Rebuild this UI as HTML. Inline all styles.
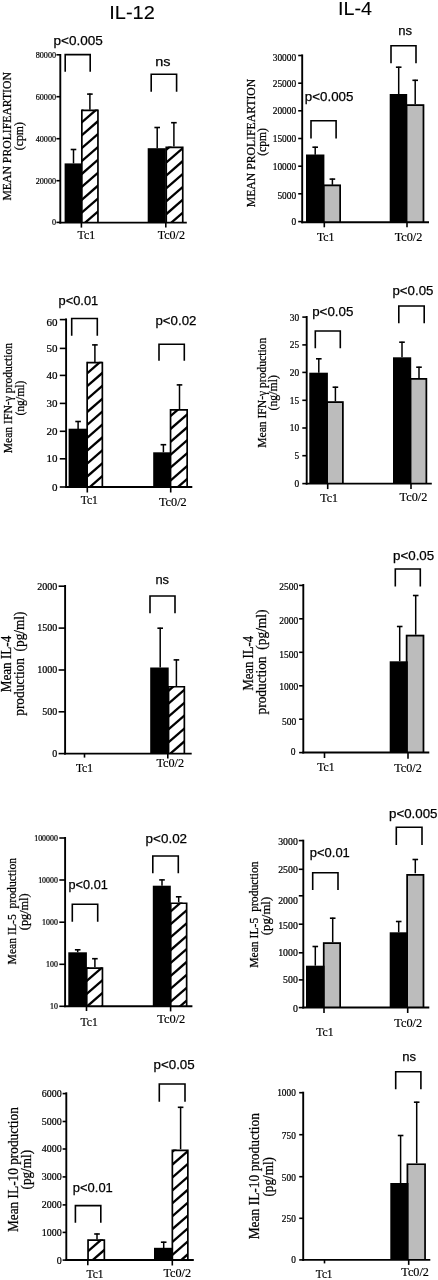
<!DOCTYPE html>
<html><head><meta charset="utf-8"><title>Figure</title>
<style>
html,body{margin:0;padding:0;background:#fff;}
body{width:438px;height:1280px;overflow:hidden;font-family:"Liberation Sans",sans-serif;}
svg{display:block;filter:blur(0.4px);}
</style></head><body>
<svg width="438" height="1280" viewBox="0 0 438 1280">
<defs>
<clipPath id="c1"><rect x="81.85" y="109.60" width="16.10" height="113.00"/></clipPath>
<clipPath id="c2"><rect x="166.25" y="146.50" width="16.50" height="76.10"/></clipPath>
<clipPath id="c3"><rect x="87.15" y="361.80" width="15.20" height="125.20"/></clipPath>
<clipPath id="c4"><rect x="170.55" y="409.00" width="16.60" height="78.00"/></clipPath>
<clipPath id="c5"><rect x="168.55" y="685.90" width="15.80" height="67.70"/></clipPath>
<clipPath id="c6"><rect x="86.75" y="967.20" width="15.70" height="39.00"/></clipPath>
<clipPath id="c7"><rect x="170.75" y="902.40" width="15.90" height="103.80"/></clipPath>
<clipPath id="c8"><rect x="88.05" y="1239.30" width="16.30" height="20.70"/></clipPath>
<clipPath id="c9"><rect x="172.35" y="1149.50" width="15.50" height="110.50"/></clipPath>
</defs>
<rect width="438" height="1280" fill="#fff"/>
<rect x="81.00" y="109.60" width="17.80" height="113.00" fill="#fff"/>
<g clip-path="url(#c1)">
<line x1="78.85" y1="99.11" x2="100.95" y2="79.88" stroke="#000" stroke-width="2.3"/>
<line x1="78.85" y1="112.01" x2="100.95" y2="92.78" stroke="#000" stroke-width="2.3"/>
<line x1="78.85" y1="124.91" x2="100.95" y2="105.68" stroke="#000" stroke-width="2.3"/>
<line x1="78.85" y1="137.81" x2="100.95" y2="118.58" stroke="#000" stroke-width="2.3"/>
<line x1="78.85" y1="150.71" x2="100.95" y2="131.48" stroke="#000" stroke-width="2.3"/>
<line x1="78.85" y1="163.61" x2="100.95" y2="144.38" stroke="#000" stroke-width="2.3"/>
<line x1="78.85" y1="176.51" x2="100.95" y2="157.28" stroke="#000" stroke-width="2.3"/>
<line x1="78.85" y1="189.41" x2="100.95" y2="170.18" stroke="#000" stroke-width="2.3"/>
<line x1="78.85" y1="202.31" x2="100.95" y2="183.08" stroke="#000" stroke-width="2.3"/>
<line x1="78.85" y1="215.21" x2="100.95" y2="195.98" stroke="#000" stroke-width="2.3"/>
<line x1="78.85" y1="228.11" x2="100.95" y2="208.88" stroke="#000" stroke-width="2.3"/>
<line x1="78.85" y1="241.01" x2="100.95" y2="221.78" stroke="#000" stroke-width="2.3"/>
<line x1="78.85" y1="253.91" x2="100.95" y2="234.68" stroke="#000" stroke-width="2.3"/>
<line x1="78.85" y1="266.81" x2="100.95" y2="247.58" stroke="#000" stroke-width="2.3"/>
</g>
<path d="M81.85 222.60V110.45H97.95V222.60" fill="none" stroke="#000" stroke-width="1.7"/>
<rect x="165.40" y="146.50" width="18.20" height="76.10" fill="#fff"/>
<g clip-path="url(#c2)">
<line x1="163.25" y1="126.47" x2="185.75" y2="106.90" stroke="#000" stroke-width="2.3"/>
<line x1="163.25" y1="139.37" x2="185.75" y2="119.80" stroke="#000" stroke-width="2.3"/>
<line x1="163.25" y1="152.27" x2="185.75" y2="132.70" stroke="#000" stroke-width="2.3"/>
<line x1="163.25" y1="165.17" x2="185.75" y2="145.60" stroke="#000" stroke-width="2.3"/>
<line x1="163.25" y1="178.07" x2="185.75" y2="158.50" stroke="#000" stroke-width="2.3"/>
<line x1="163.25" y1="190.97" x2="185.75" y2="171.40" stroke="#000" stroke-width="2.3"/>
<line x1="163.25" y1="203.87" x2="185.75" y2="184.30" stroke="#000" stroke-width="2.3"/>
<line x1="163.25" y1="216.77" x2="185.75" y2="197.20" stroke="#000" stroke-width="2.3"/>
<line x1="163.25" y1="229.67" x2="185.75" y2="210.10" stroke="#000" stroke-width="2.3"/>
<line x1="163.25" y1="242.57" x2="185.75" y2="223.00" stroke="#000" stroke-width="2.3"/>
<line x1="163.25" y1="255.47" x2="185.75" y2="235.90" stroke="#000" stroke-width="2.3"/>
<line x1="163.25" y1="268.37" x2="185.75" y2="248.80" stroke="#000" stroke-width="2.3"/>
</g>
<path d="M166.25 222.60V147.35H182.75V222.60" fill="none" stroke="#000" stroke-width="1.7"/>
<rect x="64.60" y="163.40" width="17.00" height="59.20" fill="#000"/>
<rect x="147.70" y="148.20" width="18.10" height="74.40" fill="#000"/>
<line x1="73.50" y1="149.00" x2="73.50" y2="163.40" stroke="#000" stroke-width="1.5"/>
<line x1="70.70" y1="149.50" x2="76.30" y2="149.50" stroke="#000" stroke-width="1.6"/>
<line x1="89.90" y1="93.60" x2="89.90" y2="109.70" stroke="#000" stroke-width="1.5"/>
<line x1="87.10" y1="94.10" x2="92.70" y2="94.10" stroke="#000" stroke-width="1.6"/>
<line x1="157.20" y1="127.00" x2="157.20" y2="148.20" stroke="#000" stroke-width="1.5"/>
<line x1="154.40" y1="127.50" x2="160.00" y2="127.50" stroke="#000" stroke-width="1.6"/>
<line x1="173.90" y1="122.20" x2="173.90" y2="146.50" stroke="#000" stroke-width="1.5"/>
<line x1="171.10" y1="122.70" x2="176.70" y2="122.70" stroke="#000" stroke-width="1.6"/>
<line x1="60.30" y1="54.00" x2="60.30" y2="223.55" stroke="#000" stroke-width="1.9"/>
<line x1="59.35" y1="222.60" x2="186.80" y2="222.60" stroke="#000" stroke-width="1.9"/>
<line x1="56.40" y1="54.80" x2="60.30" y2="54.80" stroke="#000" stroke-width="1.6"/>
<text x="56.10" y="57.67" font-family="Liberation Serif" font-size="8.7" text-anchor="end" stroke="#000" stroke-width="0.22" textLength="20.40" lengthAdjust="spacingAndGlyphs">80000</text>
<line x1="56.40" y1="96.70" x2="60.30" y2="96.70" stroke="#000" stroke-width="1.6"/>
<text x="56.10" y="99.57" font-family="Liberation Serif" font-size="8.7" text-anchor="end" stroke="#000" stroke-width="0.22" textLength="20.40" lengthAdjust="spacingAndGlyphs">60000</text>
<line x1="56.40" y1="138.70" x2="60.30" y2="138.70" stroke="#000" stroke-width="1.6"/>
<text x="56.10" y="141.57" font-family="Liberation Serif" font-size="8.7" text-anchor="end" stroke="#000" stroke-width="0.22" textLength="20.40" lengthAdjust="spacingAndGlyphs">40000</text>
<line x1="56.40" y1="180.70" x2="60.30" y2="180.70" stroke="#000" stroke-width="1.6"/>
<text x="56.10" y="183.57" font-family="Liberation Serif" font-size="8.7" text-anchor="end" stroke="#000" stroke-width="0.22" textLength="20.40" lengthAdjust="spacingAndGlyphs">20000</text>
<line x1="56.40" y1="222.40" x2="60.30" y2="222.40" stroke="#000" stroke-width="1.6"/>
<text x="56.10" y="225.27" font-family="Liberation Serif" font-size="8.7" text-anchor="end" stroke="#000" stroke-width="0.22" textLength="4.08" lengthAdjust="spacingAndGlyphs">0</text>
<line x1="81.40" y1="222.60" x2="81.40" y2="227.60" stroke="#000" stroke-width="1.6"/>
<line x1="165.80" y1="222.60" x2="165.80" y2="227.60" stroke="#000" stroke-width="1.6"/>
<path d="M65.20 71.80V54.60H90.20V71.80" fill="none" stroke="#000" stroke-width="1.6"/>
<path d="M151.20 91.80V74.20H176.60V91.80" fill="none" stroke="#000" stroke-width="1.6"/>
<text x="53.50" y="44.60" font-family="Liberation Sans" font-size="13.3" text-anchor="start" stroke="#000" stroke-width="0.25" textLength="49.30" lengthAdjust="spacingAndGlyphs">p&lt;0.005</text>
<text x="155.30" y="65.80" font-family="Liberation Sans" font-size="13.3" text-anchor="start" stroke="#000" stroke-width="0.25" textLength="15.30" lengthAdjust="spacingAndGlyphs">ns</text>
<text x="77.60" y="238.80" font-family="Liberation Serif" font-size="11.6" text-anchor="start" stroke="#000" stroke-width="0.18" textLength="17.60" lengthAdjust="spacingAndGlyphs">Tc1</text>
<text x="157.70" y="239.00" font-family="Liberation Serif" font-size="12.2" text-anchor="start" stroke="#000" stroke-width="0.18" textLength="27.30" lengthAdjust="spacingAndGlyphs">Tc0/2</text>
<text x="11.30" y="200.55" font-family="Liberation Serif" font-size="12.5" text-anchor="start" stroke="#000" stroke-width="0.25" textLength="128.50" lengthAdjust="spacingAndGlyphs" transform="rotate(-90 11.30 200.55)">MEAN PROLIFEARTION</text>
<text x="23.40" y="150.20" font-family="Liberation Serif" font-size="12" text-anchor="start" stroke="#000" stroke-width="0.25" textLength="28.00" lengthAdjust="spacingAndGlyphs" transform="rotate(-90 23.40 150.20)">(cpm)</text>
<rect x="322.80" y="184.50" width="18.20" height="37.80" fill="#bcbcbc"/>
<path d="M323.65 222.30V185.35H340.15V222.30" fill="none" stroke="#000" stroke-width="1.7"/>
<rect x="405.60" y="104.30" width="18.70" height="118.00" fill="#bcbcbc"/>
<path d="M406.45 222.30V105.15H423.45V222.30" fill="none" stroke="#000" stroke-width="1.7"/>
<rect x="306.00" y="154.50" width="18.40" height="67.80" fill="#000"/>
<rect x="389.70" y="94.00" width="17.50" height="128.30" fill="#000"/>
<line x1="315.20" y1="146.70" x2="315.20" y2="154.70" stroke="#000" stroke-width="1.5"/>
<line x1="312.40" y1="147.20" x2="318.00" y2="147.20" stroke="#000" stroke-width="1.6"/>
<line x1="332.40" y1="178.60" x2="332.40" y2="184.80" stroke="#000" stroke-width="1.5"/>
<line x1="329.60" y1="179.10" x2="335.20" y2="179.10" stroke="#000" stroke-width="1.6"/>
<line x1="398.70" y1="66.70" x2="398.70" y2="94.00" stroke="#000" stroke-width="1.5"/>
<line x1="395.90" y1="67.20" x2="401.50" y2="67.20" stroke="#000" stroke-width="1.6"/>
<line x1="415.20" y1="79.80" x2="415.20" y2="104.30" stroke="#000" stroke-width="1.5"/>
<line x1="412.40" y1="80.30" x2="418.00" y2="80.30" stroke="#000" stroke-width="1.6"/>
<line x1="302.20" y1="54.40" x2="302.20" y2="223.25" stroke="#000" stroke-width="1.9"/>
<line x1="301.25" y1="222.30" x2="429.00" y2="222.30" stroke="#000" stroke-width="1.9"/>
<line x1="298.20" y1="55.50" x2="302.20" y2="55.50" stroke="#000" stroke-width="1.6"/>
<text x="296.20" y="61.30" font-family="Liberation Serif" font-size="10.6" text-anchor="end" stroke="#000" stroke-width="0.22" textLength="23.50" lengthAdjust="spacingAndGlyphs">30000</text>
<line x1="298.20" y1="83.20" x2="302.20" y2="83.20" stroke="#000" stroke-width="1.6"/>
<text x="296.20" y="86.70" font-family="Liberation Serif" font-size="10.6" text-anchor="end" stroke="#000" stroke-width="0.22" textLength="23.50" lengthAdjust="spacingAndGlyphs">25000</text>
<line x1="298.20" y1="110.80" x2="302.20" y2="110.80" stroke="#000" stroke-width="1.6"/>
<text x="296.20" y="114.30" font-family="Liberation Serif" font-size="10.6" text-anchor="end" stroke="#000" stroke-width="0.22" textLength="23.50" lengthAdjust="spacingAndGlyphs">20000</text>
<line x1="298.20" y1="138.50" x2="302.20" y2="138.50" stroke="#000" stroke-width="1.6"/>
<text x="296.20" y="142.00" font-family="Liberation Serif" font-size="10.6" text-anchor="end" stroke="#000" stroke-width="0.22" textLength="23.50" lengthAdjust="spacingAndGlyphs">15000</text>
<line x1="298.20" y1="166.20" x2="302.20" y2="166.20" stroke="#000" stroke-width="1.6"/>
<text x="296.20" y="169.70" font-family="Liberation Serif" font-size="10.6" text-anchor="end" stroke="#000" stroke-width="0.22" textLength="23.50" lengthAdjust="spacingAndGlyphs">10000</text>
<line x1="298.20" y1="193.80" x2="302.20" y2="193.80" stroke="#000" stroke-width="1.6"/>
<text x="296.20" y="198.70" font-family="Liberation Serif" font-size="10.6" text-anchor="end" stroke="#000" stroke-width="0.22" textLength="18.80" lengthAdjust="spacingAndGlyphs">5000</text>
<line x1="298.20" y1="221.60" x2="302.20" y2="221.60" stroke="#000" stroke-width="1.6"/>
<text x="296.20" y="225.10" font-family="Liberation Serif" font-size="10.6" text-anchor="end" stroke="#000" stroke-width="0.22" textLength="4.70" lengthAdjust="spacingAndGlyphs">0</text>
<line x1="324.30" y1="222.30" x2="324.30" y2="227.30" stroke="#000" stroke-width="1.6"/>
<line x1="407.00" y1="222.30" x2="407.00" y2="227.30" stroke="#000" stroke-width="1.6"/>
<path d="M311.00 138.40V120.70H336.10V138.40" fill="none" stroke="#000" stroke-width="1.6"/>
<path d="M391.00 63.30V45.70H416.00V63.30" fill="none" stroke="#000" stroke-width="1.6"/>
<text x="304.80" y="101.00" font-family="Liberation Sans" font-size="13.3" text-anchor="start" stroke="#000" stroke-width="0.25" textLength="48.60" lengthAdjust="spacingAndGlyphs">p&lt;0.005</text>
<text x="398.20" y="34.70" font-family="Liberation Sans" font-size="13.3" text-anchor="start" stroke="#000" stroke-width="0.25" textLength="13.80" lengthAdjust="spacingAndGlyphs">ns</text>
<text x="317.00" y="240.60" font-family="Liberation Serif" font-size="11.6" text-anchor="start" stroke="#000" stroke-width="0.18" textLength="17.50" lengthAdjust="spacingAndGlyphs">Tc1</text>
<text x="394.70" y="240.50" font-family="Liberation Serif" font-size="12.2" text-anchor="start" stroke="#000" stroke-width="0.18" textLength="27.70" lengthAdjust="spacingAndGlyphs">Tc0/2</text>
<text x="254.90" y="207.25" font-family="Liberation Serif" font-size="12.5" text-anchor="start" stroke="#000" stroke-width="0.25" textLength="128.50" lengthAdjust="spacingAndGlyphs" transform="rotate(-90 254.90 207.25)">MEAN PROLIFEARTION</text>
<text x="266.50" y="155.80" font-family="Liberation Serif" font-size="12" text-anchor="start" stroke="#000" stroke-width="0.25" textLength="27.60" lengthAdjust="spacingAndGlyphs" transform="rotate(-90 266.50 155.80)">(cpm)</text>
<rect x="86.30" y="361.80" width="16.90" height="125.20" fill="#fff"/>
<g clip-path="url(#c3)">
<line x1="84.15" y1="350.09" x2="105.35" y2="331.65" stroke="#000" stroke-width="2.3"/>
<line x1="84.15" y1="362.99" x2="105.35" y2="344.55" stroke="#000" stroke-width="2.3"/>
<line x1="84.15" y1="375.89" x2="105.35" y2="357.45" stroke="#000" stroke-width="2.3"/>
<line x1="84.15" y1="388.79" x2="105.35" y2="370.35" stroke="#000" stroke-width="2.3"/>
<line x1="84.15" y1="401.69" x2="105.35" y2="383.25" stroke="#000" stroke-width="2.3"/>
<line x1="84.15" y1="414.59" x2="105.35" y2="396.15" stroke="#000" stroke-width="2.3"/>
<line x1="84.15" y1="427.49" x2="105.35" y2="409.05" stroke="#000" stroke-width="2.3"/>
<line x1="84.15" y1="440.39" x2="105.35" y2="421.95" stroke="#000" stroke-width="2.3"/>
<line x1="84.15" y1="453.29" x2="105.35" y2="434.85" stroke="#000" stroke-width="2.3"/>
<line x1="84.15" y1="466.19" x2="105.35" y2="447.75" stroke="#000" stroke-width="2.3"/>
<line x1="84.15" y1="479.09" x2="105.35" y2="460.65" stroke="#000" stroke-width="2.3"/>
<line x1="84.15" y1="491.99" x2="105.35" y2="473.55" stroke="#000" stroke-width="2.3"/>
<line x1="84.15" y1="504.89" x2="105.35" y2="486.45" stroke="#000" stroke-width="2.3"/>
<line x1="84.15" y1="517.79" x2="105.35" y2="499.35" stroke="#000" stroke-width="2.3"/>
<line x1="84.15" y1="530.69" x2="105.35" y2="512.25" stroke="#000" stroke-width="2.3"/>
</g>
<path d="M87.15 487.00V362.65H102.35V487.00" fill="none" stroke="#000" stroke-width="1.7"/>
<rect x="169.70" y="409.00" width="18.30" height="78.00" fill="#fff"/>
<g clip-path="url(#c4)">
<line x1="167.55" y1="392.83" x2="190.15" y2="373.17" stroke="#000" stroke-width="2.3"/>
<line x1="167.55" y1="405.73" x2="190.15" y2="386.07" stroke="#000" stroke-width="2.3"/>
<line x1="167.55" y1="418.63" x2="190.15" y2="398.97" stroke="#000" stroke-width="2.3"/>
<line x1="167.55" y1="431.53" x2="190.15" y2="411.87" stroke="#000" stroke-width="2.3"/>
<line x1="167.55" y1="444.43" x2="190.15" y2="424.77" stroke="#000" stroke-width="2.3"/>
<line x1="167.55" y1="457.33" x2="190.15" y2="437.67" stroke="#000" stroke-width="2.3"/>
<line x1="167.55" y1="470.23" x2="190.15" y2="450.57" stroke="#000" stroke-width="2.3"/>
<line x1="167.55" y1="483.13" x2="190.15" y2="463.47" stroke="#000" stroke-width="2.3"/>
<line x1="167.55" y1="496.03" x2="190.15" y2="476.37" stroke="#000" stroke-width="2.3"/>
<line x1="167.55" y1="508.93" x2="190.15" y2="489.27" stroke="#000" stroke-width="2.3"/>
<line x1="167.55" y1="521.83" x2="190.15" y2="502.17" stroke="#000" stroke-width="2.3"/>
<line x1="167.55" y1="534.73" x2="190.15" y2="515.07" stroke="#000" stroke-width="2.3"/>
</g>
<path d="M170.55 487.00V409.85H187.15V487.00" fill="none" stroke="#000" stroke-width="1.7"/>
<rect x="68.60" y="428.70" width="18.60" height="58.30" fill="#000"/>
<rect x="153.20" y="452.30" width="17.60" height="34.70" fill="#000"/>
<line x1="78.10" y1="421.00" x2="78.10" y2="429.00" stroke="#000" stroke-width="1.5"/>
<line x1="75.30" y1="421.50" x2="80.90" y2="421.50" stroke="#000" stroke-width="1.6"/>
<line x1="94.90" y1="344.40" x2="94.90" y2="362.00" stroke="#000" stroke-width="1.5"/>
<line x1="92.10" y1="344.90" x2="97.70" y2="344.90" stroke="#000" stroke-width="1.6"/>
<line x1="163.40" y1="444.20" x2="163.40" y2="452.30" stroke="#000" stroke-width="1.5"/>
<line x1="160.60" y1="444.70" x2="166.20" y2="444.70" stroke="#000" stroke-width="1.6"/>
<line x1="179.50" y1="384.40" x2="179.50" y2="409.00" stroke="#000" stroke-width="1.5"/>
<line x1="176.70" y1="384.90" x2="182.30" y2="384.90" stroke="#000" stroke-width="1.6"/>
<line x1="66.10" y1="318.40" x2="66.10" y2="487.95" stroke="#000" stroke-width="1.9"/>
<line x1="65.15" y1="487.00" x2="192.30" y2="487.00" stroke="#000" stroke-width="1.9"/>
<line x1="59.80" y1="319.60" x2="66.10" y2="319.60" stroke="#000" stroke-width="1.6"/>
<text x="57.60" y="325.83" font-family="Liberation Serif" font-size="10.7" text-anchor="end" stroke="#000" stroke-width="0.22" textLength="11.00" lengthAdjust="spacingAndGlyphs">60</text>
<line x1="59.80" y1="348.40" x2="66.10" y2="348.40" stroke="#000" stroke-width="1.6"/>
<text x="57.60" y="351.93" font-family="Liberation Serif" font-size="10.7" text-anchor="end" stroke="#000" stroke-width="0.22" textLength="11.00" lengthAdjust="spacingAndGlyphs">50</text>
<line x1="59.80" y1="375.40" x2="66.10" y2="375.40" stroke="#000" stroke-width="1.6"/>
<text x="57.60" y="378.93" font-family="Liberation Serif" font-size="10.7" text-anchor="end" stroke="#000" stroke-width="0.22" textLength="11.00" lengthAdjust="spacingAndGlyphs">40</text>
<line x1="59.80" y1="403.40" x2="66.10" y2="403.40" stroke="#000" stroke-width="1.6"/>
<text x="57.60" y="406.93" font-family="Liberation Serif" font-size="10.7" text-anchor="end" stroke="#000" stroke-width="0.22" textLength="11.00" lengthAdjust="spacingAndGlyphs">30</text>
<line x1="59.80" y1="431.30" x2="66.10" y2="431.30" stroke="#000" stroke-width="1.6"/>
<text x="57.60" y="434.83" font-family="Liberation Serif" font-size="10.7" text-anchor="end" stroke="#000" stroke-width="0.22" textLength="11.00" lengthAdjust="spacingAndGlyphs">20</text>
<line x1="59.80" y1="458.80" x2="66.10" y2="458.80" stroke="#000" stroke-width="1.6"/>
<text x="57.60" y="462.33" font-family="Liberation Serif" font-size="10.7" text-anchor="end" stroke="#000" stroke-width="0.22" textLength="11.00" lengthAdjust="spacingAndGlyphs">10</text>
<line x1="59.80" y1="487.00" x2="66.10" y2="487.00" stroke="#000" stroke-width="1.6"/>
<text x="57.60" y="490.53" font-family="Liberation Serif" font-size="10.7" text-anchor="end" stroke="#000" stroke-width="0.22" textLength="5.50" lengthAdjust="spacingAndGlyphs">0</text>
<line x1="87.30" y1="487.00" x2="87.30" y2="492.50" stroke="#000" stroke-width="1.6"/>
<line x1="170.70" y1="487.00" x2="170.70" y2="492.50" stroke="#000" stroke-width="1.6"/>
<path d="M71.70 335.80V318.50H97.30V335.80" fill="none" stroke="#000" stroke-width="1.6"/>
<path d="M159.00 360.80V344.20H184.30V360.80" fill="none" stroke="#000" stroke-width="1.6"/>
<text x="58.50" y="304.50" font-family="Liberation Sans" font-size="13.3" text-anchor="start" stroke="#000" stroke-width="0.25" textLength="39.70" lengthAdjust="spacingAndGlyphs">p&lt;0.01</text>
<text x="155.50" y="324.50" font-family="Liberation Sans" font-size="13.3" text-anchor="start" stroke="#000" stroke-width="0.25" textLength="40.90" lengthAdjust="spacingAndGlyphs">p&lt;0.02</text>
<text x="80.70" y="504.00" font-family="Liberation Serif" font-size="11.6" text-anchor="start" stroke="#000" stroke-width="0.18" textLength="17.20" lengthAdjust="spacingAndGlyphs">Tc1</text>
<text x="158.90" y="506.00" font-family="Liberation Serif" font-size="12.2" text-anchor="start" stroke="#000" stroke-width="0.18" textLength="27.80" lengthAdjust="spacingAndGlyphs">Tc0/2</text>
<text x="12.50" y="453.30" font-family="Liberation Serif" font-size="13" text-anchor="start" stroke="#000" stroke-width="0.25" textLength="110.40" lengthAdjust="spacingAndGlyphs" transform="rotate(-90 12.50 453.30)">Mean IFN-γ production</text>
<text x="24.00" y="415.60" font-family="Liberation Serif" font-size="12.6" text-anchor="start" stroke="#000" stroke-width="0.25" textLength="35.00" lengthAdjust="spacingAndGlyphs" transform="rotate(-90 24.00 415.60)">(ng/ml)</text>
<rect x="326.20" y="401.30" width="17.50" height="82.30" fill="#bcbcbc"/>
<path d="M327.05 483.60V402.15H342.85V483.60" fill="none" stroke="#000" stroke-width="1.7"/>
<rect x="409.60" y="378.00" width="17.60" height="105.60" fill="#bcbcbc"/>
<path d="M410.45 483.60V378.85H426.35V483.60" fill="none" stroke="#000" stroke-width="1.7"/>
<rect x="309.30" y="372.70" width="18.60" height="110.90" fill="#000"/>
<rect x="393.00" y="357.30" width="18.20" height="126.30" fill="#000"/>
<line x1="318.80" y1="358.30" x2="318.80" y2="372.70" stroke="#000" stroke-width="1.5"/>
<line x1="316.00" y1="358.80" x2="321.60" y2="358.80" stroke="#000" stroke-width="1.6"/>
<line x1="335.40" y1="386.70" x2="335.40" y2="401.30" stroke="#000" stroke-width="1.5"/>
<line x1="332.60" y1="387.20" x2="338.20" y2="387.20" stroke="#000" stroke-width="1.6"/>
<line x1="402.00" y1="341.70" x2="402.00" y2="357.30" stroke="#000" stroke-width="1.5"/>
<line x1="399.20" y1="342.20" x2="404.80" y2="342.20" stroke="#000" stroke-width="1.6"/>
<line x1="419.00" y1="366.70" x2="419.00" y2="378.00" stroke="#000" stroke-width="1.5"/>
<line x1="416.20" y1="367.20" x2="421.80" y2="367.20" stroke="#000" stroke-width="1.6"/>
<line x1="306.70" y1="316.00" x2="306.70" y2="484.55" stroke="#000" stroke-width="1.9"/>
<line x1="305.75" y1="483.60" x2="431.80" y2="483.60" stroke="#000" stroke-width="1.9"/>
<line x1="302.30" y1="317.10" x2="306.70" y2="317.10" stroke="#000" stroke-width="1.6"/>
<text x="299.20" y="320.87" font-family="Liberation Serif" font-size="10.5" text-anchor="end" stroke="#000" stroke-width="0.22" textLength="9.40" lengthAdjust="spacingAndGlyphs">30</text>
<line x1="302.30" y1="344.90" x2="306.70" y2="344.90" stroke="#000" stroke-width="1.6"/>
<text x="299.20" y="348.36" font-family="Liberation Serif" font-size="10.5" text-anchor="end" stroke="#000" stroke-width="0.22" textLength="9.40" lengthAdjust="spacingAndGlyphs">25</text>
<line x1="302.30" y1="372.40" x2="306.70" y2="372.40" stroke="#000" stroke-width="1.6"/>
<text x="299.20" y="375.86" font-family="Liberation Serif" font-size="10.5" text-anchor="end" stroke="#000" stroke-width="0.22" textLength="9.40" lengthAdjust="spacingAndGlyphs">20</text>
<line x1="302.30" y1="400.30" x2="306.70" y2="400.30" stroke="#000" stroke-width="1.6"/>
<text x="299.20" y="403.76" font-family="Liberation Serif" font-size="10.5" text-anchor="end" stroke="#000" stroke-width="0.22" textLength="9.40" lengthAdjust="spacingAndGlyphs">15</text>
<line x1="302.30" y1="428.00" x2="306.70" y2="428.00" stroke="#000" stroke-width="1.6"/>
<text x="299.20" y="431.46" font-family="Liberation Serif" font-size="10.5" text-anchor="end" stroke="#000" stroke-width="0.22" textLength="9.40" lengthAdjust="spacingAndGlyphs">10</text>
<line x1="302.30" y1="455.70" x2="306.70" y2="455.70" stroke="#000" stroke-width="1.6"/>
<text x="299.20" y="459.16" font-family="Liberation Serif" font-size="10.5" text-anchor="end" stroke="#000" stroke-width="0.22" textLength="4.70" lengthAdjust="spacingAndGlyphs">5</text>
<line x1="302.30" y1="483.60" x2="306.70" y2="483.60" stroke="#000" stroke-width="1.6"/>
<text x="299.20" y="487.06" font-family="Liberation Serif" font-size="10.5" text-anchor="end" stroke="#000" stroke-width="0.22" textLength="4.70" lengthAdjust="spacingAndGlyphs">0</text>
<line x1="327.70" y1="483.60" x2="327.70" y2="489.10" stroke="#000" stroke-width="1.6"/>
<line x1="411.00" y1="483.60" x2="411.00" y2="489.10" stroke="#000" stroke-width="1.6"/>
<path d="M315.30 348.30V331.00H340.30V348.30" fill="none" stroke="#000" stroke-width="1.6"/>
<path d="M398.80 323.30V306.00H424.20V323.30" fill="none" stroke="#000" stroke-width="1.6"/>
<text x="312.20" y="315.70" font-family="Liberation Sans" font-size="13.3" text-anchor="start" stroke="#000" stroke-width="0.25" textLength="41.20" lengthAdjust="spacingAndGlyphs">p&lt;0.05</text>
<text x="392.50" y="295.00" font-family="Liberation Sans" font-size="13.3" text-anchor="start" stroke="#000" stroke-width="0.25" textLength="40.90" lengthAdjust="spacingAndGlyphs">p&lt;0.05</text>
<text x="320.30" y="501.80" font-family="Liberation Serif" font-size="11.6" text-anchor="start" stroke="#000" stroke-width="0.18" textLength="17.50" lengthAdjust="spacingAndGlyphs">Tc1</text>
<text x="399.60" y="501.20" font-family="Liberation Serif" font-size="12.2" text-anchor="start" stroke="#000" stroke-width="0.18" textLength="27.70" lengthAdjust="spacingAndGlyphs">Tc0/2</text>
<text x="266.00" y="447.80" font-family="Liberation Serif" font-size="13" text-anchor="start" stroke="#000" stroke-width="0.25" textLength="110.00" lengthAdjust="spacingAndGlyphs" transform="rotate(-90 266.00 447.80)">Mean IFN-γ production</text>
<text x="277.40" y="410.50" font-family="Liberation Serif" font-size="12.6" text-anchor="start" stroke="#000" stroke-width="0.25" textLength="35.40" lengthAdjust="spacingAndGlyphs" transform="rotate(-90 277.40 410.50)">(ng/ml)</text>
<rect x="167.70" y="685.90" width="17.50" height="67.70" fill="#fff"/>
<g clip-path="url(#c5)">
<line x1="165.55" y1="667.47" x2="187.35" y2="648.51" stroke="#000" stroke-width="2.3"/>
<line x1="165.55" y1="680.37" x2="187.35" y2="661.41" stroke="#000" stroke-width="2.3"/>
<line x1="165.55" y1="693.27" x2="187.35" y2="674.31" stroke="#000" stroke-width="2.3"/>
<line x1="165.55" y1="706.17" x2="187.35" y2="687.21" stroke="#000" stroke-width="2.3"/>
<line x1="165.55" y1="719.07" x2="187.35" y2="700.11" stroke="#000" stroke-width="2.3"/>
<line x1="165.55" y1="731.97" x2="187.35" y2="713.01" stroke="#000" stroke-width="2.3"/>
<line x1="165.55" y1="744.87" x2="187.35" y2="725.91" stroke="#000" stroke-width="2.3"/>
<line x1="165.55" y1="757.77" x2="187.35" y2="738.81" stroke="#000" stroke-width="2.3"/>
<line x1="165.55" y1="770.67" x2="187.35" y2="751.71" stroke="#000" stroke-width="2.3"/>
<line x1="165.55" y1="783.57" x2="187.35" y2="764.61" stroke="#000" stroke-width="2.3"/>
<line x1="165.55" y1="796.47" x2="187.35" y2="777.51" stroke="#000" stroke-width="2.3"/>
</g>
<path d="M168.55 753.60V686.75H184.35V753.60" fill="none" stroke="#000" stroke-width="1.7"/>
<rect x="150.20" y="667.50" width="18.50" height="86.10" fill="#000"/>
<line x1="160.20" y1="627.70" x2="160.20" y2="667.50" stroke="#000" stroke-width="1.5"/>
<line x1="157.40" y1="628.20" x2="163.00" y2="628.20" stroke="#000" stroke-width="1.6"/>
<line x1="176.40" y1="659.40" x2="176.40" y2="686.30" stroke="#000" stroke-width="1.5"/>
<line x1="173.60" y1="659.90" x2="179.20" y2="659.90" stroke="#000" stroke-width="1.6"/>
<line x1="65.10" y1="585.00" x2="65.10" y2="754.55" stroke="#000" stroke-width="1.9"/>
<line x1="64.15" y1="753.60" x2="191.70" y2="753.60" stroke="#000" stroke-width="1.9"/>
<line x1="58.60" y1="586.20" x2="65.10" y2="586.20" stroke="#000" stroke-width="1.6"/>
<text x="57.30" y="589.90" font-family="Liberation Serif" font-size="10" text-anchor="end" stroke="#000" stroke-width="0.22" textLength="20.00" lengthAdjust="spacingAndGlyphs">2000</text>
<line x1="58.60" y1="628.10" x2="65.10" y2="628.10" stroke="#000" stroke-width="1.6"/>
<text x="57.30" y="631.40" font-family="Liberation Serif" font-size="10" text-anchor="end" stroke="#000" stroke-width="0.22" textLength="20.00" lengthAdjust="spacingAndGlyphs">1500</text>
<line x1="58.60" y1="670.00" x2="65.10" y2="670.00" stroke="#000" stroke-width="1.6"/>
<text x="57.30" y="673.30" font-family="Liberation Serif" font-size="10" text-anchor="end" stroke="#000" stroke-width="0.22" textLength="20.00" lengthAdjust="spacingAndGlyphs">1000</text>
<line x1="58.60" y1="711.80" x2="65.10" y2="711.80" stroke="#000" stroke-width="1.6"/>
<text x="57.30" y="715.10" font-family="Liberation Serif" font-size="10" text-anchor="end" stroke="#000" stroke-width="0.22" textLength="15.00" lengthAdjust="spacingAndGlyphs">500</text>
<line x1="58.60" y1="753.60" x2="65.10" y2="753.60" stroke="#000" stroke-width="1.6"/>
<text x="57.30" y="756.90" font-family="Liberation Serif" font-size="10" text-anchor="end" stroke="#000" stroke-width="0.22" textLength="5.00" lengthAdjust="spacingAndGlyphs">0</text>
<line x1="84.50" y1="753.60" x2="84.50" y2="757.60" stroke="#000" stroke-width="1.6"/>
<line x1="167.80" y1="753.60" x2="167.80" y2="758.60" stroke="#000" stroke-width="1.6"/>
<path d="M150.00 613.30V596.00H175.00V613.30" fill="none" stroke="#000" stroke-width="1.6"/>
<text x="155.40" y="584.00" font-family="Liberation Sans" font-size="13.3" text-anchor="start" stroke="#000" stroke-width="0.25" textLength="13.60" lengthAdjust="spacingAndGlyphs">ns</text>
<text x="75.90" y="771.60" font-family="Liberation Serif" font-size="11.6" text-anchor="start" stroke="#000" stroke-width="0.18" textLength="17.10" lengthAdjust="spacingAndGlyphs">Tc1</text>
<text x="156.40" y="766.90" font-family="Liberation Serif" font-size="12.2" text-anchor="start" stroke="#000" stroke-width="0.18" textLength="27.60" lengthAdjust="spacingAndGlyphs">Tc0/2</text>
<text x="11.30" y="692.25" font-family="Liberation Serif" font-size="14" text-anchor="start" stroke="#000" stroke-width="0.25" textLength="56.50" lengthAdjust="spacingAndGlyphs" transform="rotate(-90 11.30 692.25)">Mean IL-4</text>
<text x="24.40" y="715.70" font-family="Liberation Serif" font-size="14" text-anchor="start" stroke="#000" stroke-width="0.25" textLength="104.20" lengthAdjust="spacingAndGlyphs" transform="rotate(-90 24.40 715.70)">production  (pg/ml)</text>
<rect x="405.80" y="634.70" width="18.50" height="117.80" fill="#bcbcbc"/>
<path d="M406.65 752.50V635.55H423.45V752.50" fill="none" stroke="#000" stroke-width="1.7"/>
<rect x="389.70" y="661.30" width="18.10" height="91.20" fill="#000"/>
<line x1="399.70" y1="626.00" x2="399.70" y2="661.30" stroke="#000" stroke-width="1.5"/>
<line x1="396.90" y1="626.50" x2="402.50" y2="626.50" stroke="#000" stroke-width="1.6"/>
<line x1="415.70" y1="595.00" x2="415.70" y2="634.70" stroke="#000" stroke-width="1.5"/>
<line x1="412.90" y1="595.50" x2="418.50" y2="595.50" stroke="#000" stroke-width="1.6"/>
<line x1="303.30" y1="584.00" x2="303.30" y2="753.45" stroke="#000" stroke-width="1.9"/>
<line x1="302.35" y1="752.50" x2="429.30" y2="752.50" stroke="#000" stroke-width="1.9"/>
<line x1="299.10" y1="585.40" x2="303.30" y2="585.40" stroke="#000" stroke-width="1.6"/>
<text x="298.20" y="589.70" font-family="Liberation Serif" font-size="10.6" text-anchor="end" stroke="#000" stroke-width="0.22" textLength="19.00" lengthAdjust="spacingAndGlyphs">2500</text>
<line x1="299.10" y1="618.80" x2="303.30" y2="618.80" stroke="#000" stroke-width="1.6"/>
<text x="298.20" y="623.90" font-family="Liberation Serif" font-size="10.6" text-anchor="end" stroke="#000" stroke-width="0.22" textLength="19.00" lengthAdjust="spacingAndGlyphs">2000</text>
<line x1="299.10" y1="652.30" x2="303.30" y2="652.30" stroke="#000" stroke-width="1.6"/>
<text x="298.20" y="657.80" font-family="Liberation Serif" font-size="10.6" text-anchor="end" stroke="#000" stroke-width="0.22" textLength="19.00" lengthAdjust="spacingAndGlyphs">1500</text>
<line x1="299.10" y1="685.80" x2="303.30" y2="685.80" stroke="#000" stroke-width="1.6"/>
<text x="298.20" y="689.60" font-family="Liberation Serif" font-size="10.6" text-anchor="end" stroke="#000" stroke-width="0.22" textLength="19.00" lengthAdjust="spacingAndGlyphs">1000</text>
<line x1="299.10" y1="719.20" x2="303.30" y2="719.20" stroke="#000" stroke-width="1.6"/>
<text x="296.20" y="724.70" font-family="Liberation Serif" font-size="10.6" text-anchor="end" stroke="#000" stroke-width="0.22" textLength="14.25" lengthAdjust="spacingAndGlyphs">500</text>
<line x1="299.10" y1="752.60" x2="303.30" y2="752.60" stroke="#000" stroke-width="1.6"/>
<text x="295.50" y="755.40" font-family="Liberation Serif" font-size="10.6" text-anchor="end" stroke="#000" stroke-width="0.22" textLength="4.75" lengthAdjust="spacingAndGlyphs">0</text>
<line x1="324.50" y1="752.50" x2="324.50" y2="758.00" stroke="#000" stroke-width="1.6"/>
<line x1="408.00" y1="752.50" x2="408.00" y2="758.70" stroke="#000" stroke-width="1.6"/>
<path d="M395.30 586.60V569.00H420.30V586.60" fill="none" stroke="#000" stroke-width="1.6"/>
<text x="393.00" y="560.00" font-family="Liberation Sans" font-size="13.3" text-anchor="start" stroke="#000" stroke-width="0.25" textLength="41.20" lengthAdjust="spacingAndGlyphs">p&lt;0.05</text>
<text x="317.30" y="771.20" font-family="Liberation Serif" font-size="11.6" text-anchor="start" stroke="#000" stroke-width="0.18" textLength="17.20" lengthAdjust="spacingAndGlyphs">Tc1</text>
<text x="394.30" y="771.80" font-family="Liberation Serif" font-size="12.2" text-anchor="start" stroke="#000" stroke-width="0.18" textLength="27.50" lengthAdjust="spacingAndGlyphs">Tc0/2</text>
<text x="253.00" y="690.60" font-family="Liberation Serif" font-size="14" text-anchor="start" stroke="#000" stroke-width="0.25" textLength="54.80" lengthAdjust="spacingAndGlyphs" transform="rotate(-90 253.00 690.60)">Mean IL-4</text>
<text x="266.10" y="714.50" font-family="Liberation Serif" font-size="14" text-anchor="start" stroke="#000" stroke-width="0.25" textLength="105.00" lengthAdjust="spacingAndGlyphs" transform="rotate(-90 266.10 714.50)">production  (pg/ml)</text>
<rect x="85.90" y="967.20" width="17.40" height="39.00" fill="#fff"/>
<g clip-path="url(#c6)">
<line x1="83.75" y1="944.84" x2="105.45" y2="925.96" stroke="#000" stroke-width="2.3"/>
<line x1="83.75" y1="957.74" x2="105.45" y2="938.86" stroke="#000" stroke-width="2.3"/>
<line x1="83.75" y1="970.64" x2="105.45" y2="951.76" stroke="#000" stroke-width="2.3"/>
<line x1="83.75" y1="983.54" x2="105.45" y2="964.66" stroke="#000" stroke-width="2.3"/>
<line x1="83.75" y1="996.44" x2="105.45" y2="977.56" stroke="#000" stroke-width="2.3"/>
<line x1="83.75" y1="1009.34" x2="105.45" y2="990.46" stroke="#000" stroke-width="2.3"/>
<line x1="83.75" y1="1022.24" x2="105.45" y2="1003.36" stroke="#000" stroke-width="2.3"/>
<line x1="83.75" y1="1035.14" x2="105.45" y2="1016.26" stroke="#000" stroke-width="2.3"/>
<line x1="83.75" y1="1048.04" x2="105.45" y2="1029.16" stroke="#000" stroke-width="2.3"/>
</g>
<path d="M86.75 1006.20V968.05H102.45V1006.20" fill="none" stroke="#000" stroke-width="1.7"/>
<rect x="169.90" y="902.40" width="17.60" height="103.80" fill="#fff"/>
<g clip-path="url(#c7)">
<line x1="167.75" y1="888.06" x2="189.65" y2="869.00" stroke="#000" stroke-width="2.3"/>
<line x1="167.75" y1="900.96" x2="189.65" y2="881.90" stroke="#000" stroke-width="2.3"/>
<line x1="167.75" y1="913.86" x2="189.65" y2="894.80" stroke="#000" stroke-width="2.3"/>
<line x1="167.75" y1="926.76" x2="189.65" y2="907.70" stroke="#000" stroke-width="2.3"/>
<line x1="167.75" y1="939.66" x2="189.65" y2="920.60" stroke="#000" stroke-width="2.3"/>
<line x1="167.75" y1="952.56" x2="189.65" y2="933.50" stroke="#000" stroke-width="2.3"/>
<line x1="167.75" y1="965.46" x2="189.65" y2="946.40" stroke="#000" stroke-width="2.3"/>
<line x1="167.75" y1="978.36" x2="189.65" y2="959.30" stroke="#000" stroke-width="2.3"/>
<line x1="167.75" y1="991.26" x2="189.65" y2="972.20" stroke="#000" stroke-width="2.3"/>
<line x1="167.75" y1="1004.16" x2="189.65" y2="985.10" stroke="#000" stroke-width="2.3"/>
<line x1="167.75" y1="1017.06" x2="189.65" y2="998.00" stroke="#000" stroke-width="2.3"/>
<line x1="167.75" y1="1029.96" x2="189.65" y2="1010.90" stroke="#000" stroke-width="2.3"/>
<line x1="167.75" y1="1042.86" x2="189.65" y2="1023.80" stroke="#000" stroke-width="2.3"/>
<line x1="167.75" y1="1055.76" x2="189.65" y2="1036.70" stroke="#000" stroke-width="2.3"/>
</g>
<path d="M170.75 1006.20V903.25H186.65V1006.20" fill="none" stroke="#000" stroke-width="1.7"/>
<rect x="68.30" y="952.30" width="18.60" height="53.90" fill="#000"/>
<rect x="152.80" y="885.70" width="18.00" height="120.50" fill="#000"/>
<line x1="77.70" y1="949.30" x2="77.70" y2="952.30" stroke="#000" stroke-width="1.5"/>
<line x1="74.90" y1="949.80" x2="80.50" y2="949.80" stroke="#000" stroke-width="1.6"/>
<line x1="94.90" y1="958.20" x2="94.90" y2="967.20" stroke="#000" stroke-width="1.5"/>
<line x1="92.10" y1="958.70" x2="97.70" y2="958.70" stroke="#000" stroke-width="1.6"/>
<line x1="162.00" y1="879.40" x2="162.00" y2="885.70" stroke="#000" stroke-width="1.5"/>
<line x1="159.20" y1="879.90" x2="164.80" y2="879.90" stroke="#000" stroke-width="1.6"/>
<line x1="178.70" y1="896.30" x2="178.70" y2="902.30" stroke="#000" stroke-width="1.5"/>
<line x1="175.90" y1="896.80" x2="181.50" y2="896.80" stroke="#000" stroke-width="1.6"/>
<line x1="65.10" y1="837.00" x2="65.10" y2="1007.15" stroke="#000" stroke-width="1.9"/>
<line x1="64.15" y1="1006.20" x2="192.40" y2="1006.20" stroke="#000" stroke-width="1.9"/>
<line x1="59.30" y1="838.00" x2="65.10" y2="838.00" stroke="#000" stroke-width="1.6"/>
<text x="57.90" y="840.54" font-family="Liberation Serif" font-size="7.7" text-anchor="end" stroke="#000" stroke-width="0.22" textLength="23.70" lengthAdjust="spacingAndGlyphs">100000</text>
<line x1="59.30" y1="880.00" x2="65.10" y2="880.00" stroke="#000" stroke-width="1.6"/>
<text x="57.90" y="882.54" font-family="Liberation Serif" font-size="7.7" text-anchor="end" stroke="#000" stroke-width="0.22" textLength="19.75" lengthAdjust="spacingAndGlyphs">10000</text>
<line x1="59.30" y1="922.20" x2="65.10" y2="922.20" stroke="#000" stroke-width="1.6"/>
<text x="57.90" y="924.74" font-family="Liberation Serif" font-size="7.7" text-anchor="end" stroke="#000" stroke-width="0.22" textLength="15.80" lengthAdjust="spacingAndGlyphs">1000</text>
<line x1="59.30" y1="964.30" x2="65.10" y2="964.30" stroke="#000" stroke-width="1.6"/>
<text x="57.90" y="966.84" font-family="Liberation Serif" font-size="7.7" text-anchor="end" stroke="#000" stroke-width="0.22" textLength="11.85" lengthAdjust="spacingAndGlyphs">100</text>
<line x1="59.30" y1="1006.30" x2="65.10" y2="1006.30" stroke="#000" stroke-width="1.6"/>
<text x="57.90" y="1008.84" font-family="Liberation Serif" font-size="7.7" text-anchor="end" stroke="#000" stroke-width="0.22" textLength="7.90" lengthAdjust="spacingAndGlyphs">10</text>
<line x1="86.50" y1="1006.20" x2="86.50" y2="1011.00" stroke="#000" stroke-width="1.6"/>
<line x1="170.60" y1="1006.20" x2="170.60" y2="1011.40" stroke="#000" stroke-width="1.6"/>
<path d="M72.30 921.70V904.30H97.70V921.70" fill="none" stroke="#000" stroke-width="1.6"/>
<path d="M152.80 873.30V856.00H178.30V873.30" fill="none" stroke="#000" stroke-width="1.6"/>
<text x="68.50" y="889.00" font-family="Liberation Sans" font-size="13.3" text-anchor="start" stroke="#000" stroke-width="0.25" textLength="39.30" lengthAdjust="spacingAndGlyphs">p&lt;0.01</text>
<text x="145.60" y="842.70" font-family="Liberation Sans" font-size="13.3" text-anchor="start" stroke="#000" stroke-width="0.25" textLength="41.50" lengthAdjust="spacingAndGlyphs">p&lt;0.02</text>
<text x="80.50" y="1025.70" font-family="Liberation Serif" font-size="11.6" text-anchor="start" stroke="#000" stroke-width="0.18" textLength="17.20" lengthAdjust="spacingAndGlyphs">Tc1</text>
<text x="157.20" y="1022.50" font-family="Liberation Serif" font-size="12.2" text-anchor="start" stroke="#000" stroke-width="0.18" textLength="28.10" lengthAdjust="spacingAndGlyphs">Tc0/2</text>
<text x="16.20" y="964.45" font-family="Liberation Serif" font-size="13.2" text-anchor="start" stroke="#000" stroke-width="0.25" textLength="106.50" lengthAdjust="spacingAndGlyphs" transform="rotate(-90 16.20 964.45)">Mean IL-5  production</text>
<text x="28.00" y="930.20" font-family="Liberation Serif" font-size="13" text-anchor="start" stroke="#000" stroke-width="0.25" textLength="36.80" lengthAdjust="spacingAndGlyphs" transform="rotate(-90 28.00 930.20)">(pg/ml)</text>
<rect x="322.90" y="942.30" width="18.10" height="65.20" fill="#bcbcbc"/>
<path d="M323.75 1007.50V943.15H340.15V1007.50" fill="none" stroke="#000" stroke-width="1.7"/>
<rect x="406.30" y="874.10" width="18.00" height="133.40" fill="#bcbcbc"/>
<path d="M407.15 1007.50V874.95H423.45V1007.50" fill="none" stroke="#000" stroke-width="1.7"/>
<rect x="306.00" y="965.70" width="18.50" height="41.80" fill="#000"/>
<rect x="389.70" y="932.30" width="18.20" height="75.20" fill="#000"/>
<line x1="315.30" y1="946.00" x2="315.30" y2="965.70" stroke="#000" stroke-width="1.5"/>
<line x1="312.50" y1="946.50" x2="318.10" y2="946.50" stroke="#000" stroke-width="1.6"/>
<line x1="332.70" y1="917.70" x2="332.70" y2="942.30" stroke="#000" stroke-width="1.5"/>
<line x1="329.90" y1="918.20" x2="335.50" y2="918.20" stroke="#000" stroke-width="1.6"/>
<line x1="398.70" y1="921.00" x2="398.70" y2="932.30" stroke="#000" stroke-width="1.5"/>
<line x1="395.90" y1="921.50" x2="401.50" y2="921.50" stroke="#000" stroke-width="1.6"/>
<line x1="415.30" y1="859.00" x2="415.30" y2="873.30" stroke="#000" stroke-width="1.5"/>
<line x1="412.50" y1="859.50" x2="418.10" y2="859.50" stroke="#000" stroke-width="1.6"/>
<line x1="303.30" y1="839.70" x2="303.30" y2="1008.45" stroke="#000" stroke-width="1.9"/>
<line x1="302.35" y1="1007.50" x2="429.30" y2="1007.50" stroke="#000" stroke-width="1.9"/>
<line x1="298.80" y1="840.60" x2="303.30" y2="840.60" stroke="#000" stroke-width="1.6"/>
<text x="297.80" y="844.70" font-family="Liberation Serif" font-size="10" text-anchor="end" stroke="#000" stroke-width="0.22" textLength="19.60" lengthAdjust="spacingAndGlyphs">3000</text>
<line x1="298.80" y1="869.30" x2="303.30" y2="869.30" stroke="#000" stroke-width="1.6"/>
<text x="297.80" y="872.60" font-family="Liberation Serif" font-size="10" text-anchor="end" stroke="#000" stroke-width="0.22" textLength="19.60" lengthAdjust="spacingAndGlyphs">2500</text>
<line x1="298.80" y1="895.80" x2="303.30" y2="895.80" stroke="#000" stroke-width="1.6"/>
<text x="297.80" y="903.70" font-family="Liberation Serif" font-size="10" text-anchor="end" stroke="#000" stroke-width="0.22" textLength="19.60" lengthAdjust="spacingAndGlyphs">2000</text>
<line x1="298.80" y1="924.20" x2="303.30" y2="924.20" stroke="#000" stroke-width="1.6"/>
<text x="297.80" y="928.70" font-family="Liberation Serif" font-size="10" text-anchor="end" stroke="#000" stroke-width="0.22" textLength="19.60" lengthAdjust="spacingAndGlyphs">1500</text>
<line x1="298.80" y1="952.80" x2="303.30" y2="952.80" stroke="#000" stroke-width="1.6"/>
<text x="297.80" y="956.10" font-family="Liberation Serif" font-size="10" text-anchor="end" stroke="#000" stroke-width="0.22" textLength="19.60" lengthAdjust="spacingAndGlyphs">1000</text>
<line x1="298.80" y1="979.90" x2="303.30" y2="979.90" stroke="#000" stroke-width="1.6"/>
<text x="297.80" y="983.20" font-family="Liberation Serif" font-size="10" text-anchor="end" stroke="#000" stroke-width="0.22" textLength="14.70" lengthAdjust="spacingAndGlyphs">500</text>
<line x1="298.80" y1="1007.60" x2="303.30" y2="1007.60" stroke="#000" stroke-width="1.6"/>
<text x="297.80" y="1011.50" font-family="Liberation Serif" font-size="10" text-anchor="end" stroke="#000" stroke-width="0.22" textLength="4.90" lengthAdjust="spacingAndGlyphs">0</text>
<line x1="324.00" y1="1007.50" x2="324.00" y2="1013.00" stroke="#000" stroke-width="1.6"/>
<line x1="407.70" y1="1007.50" x2="407.70" y2="1013.00" stroke="#000" stroke-width="1.6"/>
<path d="M312.70 890.00V872.80H338.00V890.00" fill="none" stroke="#000" stroke-width="1.6"/>
<path d="M396.30 845.00V827.30H422.00V845.00" fill="none" stroke="#000" stroke-width="1.6"/>
<text x="309.80" y="857.00" font-family="Liberation Sans" font-size="13.3" text-anchor="start" stroke="#000" stroke-width="0.25" textLength="40.00" lengthAdjust="spacingAndGlyphs">p&lt;0.01</text>
<text x="389.00" y="818.30" font-family="Liberation Sans" font-size="13.3" text-anchor="start" stroke="#000" stroke-width="0.25" textLength="48.50" lengthAdjust="spacingAndGlyphs">p&lt;0.005</text>
<text x="316.20" y="1035.80" font-family="Liberation Serif" font-size="11.6" text-anchor="start" stroke="#000" stroke-width="0.18" textLength="17.40" lengthAdjust="spacingAndGlyphs">Tc1</text>
<text x="394.30" y="1026.70" font-family="Liberation Serif" font-size="12.2" text-anchor="start" stroke="#000" stroke-width="0.18" textLength="27.90" lengthAdjust="spacingAndGlyphs">Tc0/2</text>
<text x="258.10" y="967.85" font-family="Liberation Serif" font-size="13.2" text-anchor="start" stroke="#000" stroke-width="0.25" textLength="106.50" lengthAdjust="spacingAndGlyphs" transform="rotate(-90 258.10 967.85)">Mean IL-5  production</text>
<text x="270.10" y="935.15" font-family="Liberation Serif" font-size="13" text-anchor="start" stroke="#000" stroke-width="0.25" textLength="38.30" lengthAdjust="spacingAndGlyphs" transform="rotate(-90 270.10 935.15)">(pg/ml)</text>
<rect x="87.20" y="1239.30" width="18.00" height="20.70" fill="#fff"/>
<g clip-path="url(#c8)">
<line x1="85.05" y1="1228.01" x2="107.35" y2="1208.61" stroke="#000" stroke-width="2.3"/>
<line x1="85.05" y1="1240.91" x2="107.35" y2="1221.51" stroke="#000" stroke-width="2.3"/>
<line x1="85.05" y1="1253.81" x2="107.35" y2="1234.41" stroke="#000" stroke-width="2.3"/>
<line x1="85.05" y1="1266.71" x2="107.35" y2="1247.31" stroke="#000" stroke-width="2.3"/>
<line x1="85.05" y1="1279.61" x2="107.35" y2="1260.21" stroke="#000" stroke-width="2.3"/>
<line x1="85.05" y1="1292.51" x2="107.35" y2="1273.11" stroke="#000" stroke-width="2.3"/>
<line x1="85.05" y1="1305.41" x2="107.35" y2="1286.01" stroke="#000" stroke-width="2.3"/>
</g>
<path d="M88.05 1260.00V1240.15H104.35V1260.00" fill="none" stroke="#000" stroke-width="1.7"/>
<rect x="171.50" y="1149.50" width="17.20" height="110.50" fill="#fff"/>
<g clip-path="url(#c9)">
<line x1="169.35" y1="1128.47" x2="190.85" y2="1109.76" stroke="#000" stroke-width="2.3"/>
<line x1="169.35" y1="1141.37" x2="190.85" y2="1122.66" stroke="#000" stroke-width="2.3"/>
<line x1="169.35" y1="1154.27" x2="190.85" y2="1135.56" stroke="#000" stroke-width="2.3"/>
<line x1="169.35" y1="1167.17" x2="190.85" y2="1148.46" stroke="#000" stroke-width="2.3"/>
<line x1="169.35" y1="1180.07" x2="190.85" y2="1161.36" stroke="#000" stroke-width="2.3"/>
<line x1="169.35" y1="1192.97" x2="190.85" y2="1174.26" stroke="#000" stroke-width="2.3"/>
<line x1="169.35" y1="1205.87" x2="190.85" y2="1187.16" stroke="#000" stroke-width="2.3"/>
<line x1="169.35" y1="1218.77" x2="190.85" y2="1200.06" stroke="#000" stroke-width="2.3"/>
<line x1="169.35" y1="1231.67" x2="190.85" y2="1212.96" stroke="#000" stroke-width="2.3"/>
<line x1="169.35" y1="1244.57" x2="190.85" y2="1225.86" stroke="#000" stroke-width="2.3"/>
<line x1="169.35" y1="1257.47" x2="190.85" y2="1238.76" stroke="#000" stroke-width="2.3"/>
<line x1="169.35" y1="1270.37" x2="190.85" y2="1251.66" stroke="#000" stroke-width="2.3"/>
<line x1="169.35" y1="1283.27" x2="190.85" y2="1264.56" stroke="#000" stroke-width="2.3"/>
<line x1="169.35" y1="1296.17" x2="190.85" y2="1277.46" stroke="#000" stroke-width="2.3"/>
<line x1="169.35" y1="1309.07" x2="190.85" y2="1290.36" stroke="#000" stroke-width="2.3"/>
</g>
<path d="M172.35 1260.00V1150.35H187.85V1260.00" fill="none" stroke="#000" stroke-width="1.7"/>
<rect x="154.00" y="1247.80" width="18.40" height="12.20" fill="#000"/>
<line x1="97.00" y1="1233.50" x2="97.00" y2="1239.40" stroke="#000" stroke-width="1.5"/>
<line x1="94.20" y1="1234.00" x2="99.80" y2="1234.00" stroke="#000" stroke-width="1.6"/>
<line x1="163.70" y1="1241.70" x2="163.70" y2="1248.00" stroke="#000" stroke-width="1.5"/>
<line x1="160.90" y1="1242.20" x2="166.50" y2="1242.20" stroke="#000" stroke-width="1.6"/>
<line x1="180.60" y1="1106.80" x2="180.60" y2="1149.30" stroke="#000" stroke-width="1.5"/>
<line x1="177.80" y1="1107.30" x2="183.40" y2="1107.30" stroke="#000" stroke-width="1.6"/>
<line x1="66.30" y1="1092.30" x2="66.30" y2="1260.95" stroke="#000" stroke-width="1.9"/>
<line x1="65.35" y1="1260.00" x2="193.80" y2="1260.00" stroke="#000" stroke-width="1.9"/>
<line x1="62.60" y1="1093.60" x2="66.30" y2="1093.60" stroke="#000" stroke-width="1.6"/>
<text x="61.80" y="1097.03" font-family="Liberation Serif" font-size="10.4" text-anchor="end" stroke="#000" stroke-width="0.22" textLength="20.00" lengthAdjust="spacingAndGlyphs">6000</text>
<line x1="62.60" y1="1121.50" x2="66.30" y2="1121.50" stroke="#000" stroke-width="1.6"/>
<text x="61.80" y="1124.93" font-family="Liberation Serif" font-size="10.4" text-anchor="end" stroke="#000" stroke-width="0.22" textLength="20.00" lengthAdjust="spacingAndGlyphs">5000</text>
<line x1="62.60" y1="1149.00" x2="66.30" y2="1149.00" stroke="#000" stroke-width="1.6"/>
<text x="61.80" y="1152.43" font-family="Liberation Serif" font-size="10.4" text-anchor="end" stroke="#000" stroke-width="0.22" textLength="20.00" lengthAdjust="spacingAndGlyphs">4000</text>
<line x1="62.60" y1="1176.90" x2="66.30" y2="1176.90" stroke="#000" stroke-width="1.6"/>
<text x="61.80" y="1180.33" font-family="Liberation Serif" font-size="10.4" text-anchor="end" stroke="#000" stroke-width="0.22" textLength="20.00" lengthAdjust="spacingAndGlyphs">3000</text>
<line x1="62.60" y1="1204.90" x2="66.30" y2="1204.90" stroke="#000" stroke-width="1.6"/>
<text x="61.80" y="1208.33" font-family="Liberation Serif" font-size="10.4" text-anchor="end" stroke="#000" stroke-width="0.22" textLength="20.00" lengthAdjust="spacingAndGlyphs">2000</text>
<line x1="62.60" y1="1232.40" x2="66.30" y2="1232.40" stroke="#000" stroke-width="1.6"/>
<text x="61.80" y="1235.83" font-family="Liberation Serif" font-size="10.4" text-anchor="end" stroke="#000" stroke-width="0.22" textLength="20.00" lengthAdjust="spacingAndGlyphs">1000</text>
<line x1="62.60" y1="1260.10" x2="66.30" y2="1260.10" stroke="#000" stroke-width="1.6"/>
<text x="61.80" y="1263.53" font-family="Liberation Serif" font-size="10.4" text-anchor="end" stroke="#000" stroke-width="0.22" textLength="5.00" lengthAdjust="spacingAndGlyphs">0</text>
<line x1="87.80" y1="1260.00" x2="87.80" y2="1265.20" stroke="#000" stroke-width="1.6"/>
<line x1="172.30" y1="1260.00" x2="172.30" y2="1265.50" stroke="#000" stroke-width="1.6"/>
<path d="M75.40 1222.80V1205.60H100.80V1222.80" fill="none" stroke="#000" stroke-width="1.6"/>
<path d="M159.30 1101.70V1084.00H185.00V1101.70" fill="none" stroke="#000" stroke-width="1.6"/>
<text x="72.80" y="1191.70" font-family="Liberation Sans" font-size="13.3" text-anchor="start" stroke="#000" stroke-width="0.25" textLength="40.00" lengthAdjust="spacingAndGlyphs">p&lt;0.01</text>
<text x="153.50" y="1069.00" font-family="Liberation Sans" font-size="13.3" text-anchor="start" stroke="#000" stroke-width="0.25" textLength="41.20" lengthAdjust="spacingAndGlyphs">p&lt;0.05</text>
<text x="86.50" y="1277.50" font-family="Liberation Serif" font-size="11.6" text-anchor="start" stroke="#000" stroke-width="0.18" textLength="17.00" lengthAdjust="spacingAndGlyphs">Tc1</text>
<text x="163.40" y="1277.30" font-family="Liberation Serif" font-size="12.2" text-anchor="start" stroke="#000" stroke-width="0.18" textLength="27.60" lengthAdjust="spacingAndGlyphs">Tc0/2</text>
<text x="17.50" y="1232.00" font-family="Liberation Serif" font-size="14.6" text-anchor="start" stroke="#000" stroke-width="0.25" textLength="124.80" lengthAdjust="spacingAndGlyphs" transform="rotate(-90 17.50 1232.00)">Mean IL-10 production</text>
<text x="30.70" y="1189.45" font-family="Liberation Serif" font-size="14" text-anchor="start" stroke="#000" stroke-width="0.25" textLength="39.50" lengthAdjust="spacingAndGlyphs" transform="rotate(-90 30.70 1189.45)">(pg/ml)</text>
<rect x="406.60" y="1163.40" width="19.30" height="96.50" fill="#bcbcbc"/>
<path d="M407.45 1259.90V1164.25H425.05V1259.90" fill="none" stroke="#000" stroke-width="1.7"/>
<rect x="390.30" y="1183.00" width="18.20" height="76.90" fill="#000"/>
<line x1="400.60" y1="1135.00" x2="400.60" y2="1183.00" stroke="#000" stroke-width="1.5"/>
<line x1="397.80" y1="1135.50" x2="403.40" y2="1135.50" stroke="#000" stroke-width="1.6"/>
<line x1="416.70" y1="1101.70" x2="416.70" y2="1163.30" stroke="#000" stroke-width="1.5"/>
<line x1="413.90" y1="1102.20" x2="419.50" y2="1102.20" stroke="#000" stroke-width="1.6"/>
<line x1="303.20" y1="1091.70" x2="303.20" y2="1260.85" stroke="#000" stroke-width="1.9"/>
<line x1="302.25" y1="1259.90" x2="430.30" y2="1259.90" stroke="#000" stroke-width="1.9"/>
<line x1="299.20" y1="1092.70" x2="303.20" y2="1092.70" stroke="#000" stroke-width="1.6"/>
<text x="295.80" y="1095.50" font-family="Liberation Serif" font-size="10" text-anchor="end" stroke="#000" stroke-width="0.22" textLength="18.60" lengthAdjust="spacingAndGlyphs">1000</text>
<line x1="299.20" y1="1134.70" x2="303.20" y2="1134.70" stroke="#000" stroke-width="1.6"/>
<text x="295.80" y="1138.70" font-family="Liberation Serif" font-size="10" text-anchor="end" stroke="#000" stroke-width="0.22" textLength="13.95" lengthAdjust="spacingAndGlyphs">750</text>
<line x1="299.20" y1="1176.70" x2="303.20" y2="1176.70" stroke="#000" stroke-width="1.6"/>
<text x="295.80" y="1181.20" font-family="Liberation Serif" font-size="10" text-anchor="end" stroke="#000" stroke-width="0.22" textLength="13.95" lengthAdjust="spacingAndGlyphs">500</text>
<line x1="299.20" y1="1218.30" x2="303.20" y2="1218.30" stroke="#000" stroke-width="1.6"/>
<text x="295.80" y="1222.10" font-family="Liberation Serif" font-size="10" text-anchor="end" stroke="#000" stroke-width="0.22" textLength="13.95" lengthAdjust="spacingAndGlyphs">250</text>
<line x1="299.20" y1="1259.90" x2="303.20" y2="1259.90" stroke="#000" stroke-width="1.6"/>
<text x="295.80" y="1263.20" font-family="Liberation Serif" font-size="10" text-anchor="end" stroke="#000" stroke-width="0.22" textLength="4.65" lengthAdjust="spacingAndGlyphs">0</text>
<line x1="324.50" y1="1259.90" x2="324.50" y2="1263.40" stroke="#000" stroke-width="1.6"/>
<line x1="408.70" y1="1259.90" x2="408.70" y2="1264.90" stroke="#000" stroke-width="1.6"/>
<path d="M395.70 1089.30V1071.70H420.90V1089.30" fill="none" stroke="#000" stroke-width="1.6"/>
<text x="402.20" y="1061.00" font-family="Liberation Sans" font-size="13.3" text-anchor="start" stroke="#000" stroke-width="0.25" textLength="13.80" lengthAdjust="spacingAndGlyphs">ns</text>
<text x="315.80" y="1277.50" font-family="Liberation Serif" font-size="11.6" text-anchor="start" stroke="#000" stroke-width="0.18" textLength="16.70" lengthAdjust="spacingAndGlyphs">Tc1</text>
<text x="401.30" y="1276.20" font-family="Liberation Serif" font-size="12.2" text-anchor="start" stroke="#000" stroke-width="0.18" textLength="27.60" lengthAdjust="spacingAndGlyphs">Tc0/2</text>
<text x="259.50" y="1239.35" font-family="Liberation Serif" font-size="14.6" text-anchor="start" stroke="#000" stroke-width="0.25" textLength="126.30" lengthAdjust="spacingAndGlyphs" transform="rotate(-90 259.50 1239.35)">Mean IL-10 production</text>
<text x="272.60" y="1196.55" font-family="Liberation Serif" font-size="14" text-anchor="start" stroke="#000" stroke-width="0.25" textLength="39.50" lengthAdjust="spacingAndGlyphs" transform="rotate(-90 272.60 1196.55)">(pg/ml)</text>
<text x="109.30" y="18.90" font-family="Liberation Sans" font-size="19" text-anchor="start" stroke="#000" stroke-width="0.1" textLength="45.50" lengthAdjust="spacingAndGlyphs">IL-12</text>
<text x="338.00" y="14.80" font-family="Liberation Sans" font-size="19" text-anchor="start" stroke="#000" stroke-width="0.1" textLength="34.00" lengthAdjust="spacingAndGlyphs">IL-4</text>
</svg>
</body></html>
